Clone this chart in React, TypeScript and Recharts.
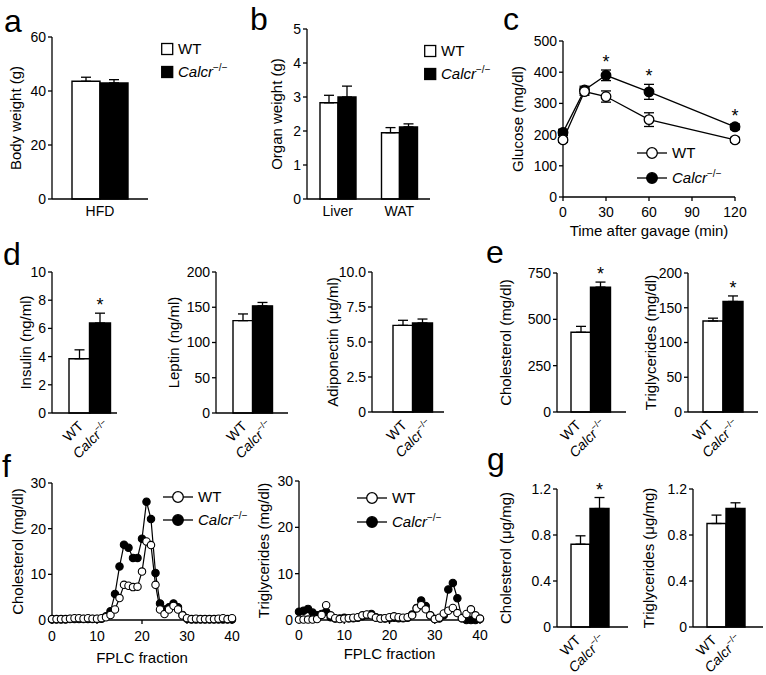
import React from "react";
import {
  BarChart,
  Bar,
  LineChart,
  Line,
  XAxis,
  YAxis,
  ErrorBar,
  Cell,
  LabelList,
  Legend,
} from "recharts";

const W = 766;
const H = 675;
const FONT = "'Liberation Sans', Arial, Helvetica, sans-serif";
const YW = 40;
const XH = 40;
const AXIS = { stroke: "#000", strokeWidth: 1.3 };
const TICK = { fill: "#000", fontSize: 14, fontFamily: FONT };

// a: body weight on HFD
const HFD_GROUPS = ["HFD"];
const BODY_WT = [43.6];
const BODY_WT_SEM = [1.5];
const BODY_KO = [43.0];
const BODY_KO_SEM = [1.2];

// b: organ weight
const ORGANS = ["Liver", "WAT"];
const ORGAN_WT = [2.83, 1.95];
const ORGAN_WT_SEM = [0.22, 0.15];
const ORGAN_KO = [3.0, 2.12];
const ORGAN_KO_SEM = [0.32, 0.09];

// c: glucose after gavage
const TIMES = [0, 15, 30, 60, 120];
const GLU_WT = [183, 338, 322, 248, 183];
const GLU_WT_SEM = [8, 12, 18, 22, 8];
const GLU_KO = [207, 343, 390, 337, 225];
const GLU_KO_SEM = [10, 12, 17, 24, 9];
const GLU_SIG = [false, false, true, true, true];

// d, e, g: WT vs Calcr-/-
const GENOTYPES = ["WT", "Calcr"];
const INSULIN = [3.85, 6.38];
const INSULIN_SEM = [0.63, 0.7];
const INSULIN_SIG = [false, true];
const LEPTIN = [131, 152];
const LEPTIN_SEM = [9.5, 4.8];
const ADIPONECTIN = [6.19, 6.36];
const ADIPONECTIN_SEM = [0.36, 0.28];
const PLASMA_CHOL = [430, 674];
const PLASMA_CHOL_SEM = [32, 27];
const PLASMA_CHOL_SIG = [false, true];
const PLASMA_TG = [131, 159];
const PLASMA_TG_SEM = [4, 8];
const PLASMA_TG_SIG = [false, true];
const LIVER_CHOL = [0.72, 1.03];
const LIVER_CHOL_SEM = [0.073, 0.096];
const LIVER_CHOL_SIG = [false, true];
const LIVER_TG = [0.9, 1.03];
const LIVER_TG_SEM = [0.073, 0.05];
const NO_SIG = [false, false];

// f: FPLC profiles
const FRACTIONS = [
  0, 1, 2, 3, 4, 5, 6, 7, 8, 9, 10, 11, 12, 13, 14, 15, 16, 17, 18, 19, 20,
  21, 22, 23, 24, 25, 26, 27, 28, 29, 30, 31, 32, 33, 34, 35, 36, 37, 38, 39, 40,
];
const FPLC_CHOL_WT = [
  0.2, 0.2, 0.2, 0.2, 0.3, 0.4, 0.4, 0.3, 0.4, 0.3,
  0.3, 0.4, 0.6, 1.1, 2.3, 4.8, 7.7, 7.5, 7.2, 7.3,
  10.6, 17.2, 16.4, 7.7, 2.3, 1.3, 2.3, 3.1, 2.3, 1.0,
  0.4, 0.2, 0.3, 0.2, 0.2, 0.2, 0.2, 0.3, 0.4, 0.2,
  0.4,
];
const FPLC_CHOL_KO = [
  0.1, 0.1, 0.1, 0.1, 0.2, 0.2, 0.2, 0.2, 0.2, 0.2,
  0.2, 0.3, 0.8, 1.9, 5.7, 11.7, 16.5, 15.8, 13.6, 13.6,
  17.8, 25.9, 22.1, 10.3, 3.6, 2.3, 2.8, 3.6, 2.8, 1.1,
  0.3, 0.1, 0.1, 0.1, 0.1, 0.1, 0.1, 0.1, 0.1, 0.1,
  0.1,
];
const FPLC_TG_WT = [
  0.1, 0.1, 0.1, 0.1, 0.2, 1.1, 3.2, 1.0, 0.4, 0.2,
  0.3, 0.4, 0.5, 0.6, 1.0, 1.2, 1.0, 0.5, 0.3, 0.4,
  0.6, 0.8, 0.6, 0.5, 0.6, 1.0, 2.5, 3.2, 2.3, 1.0,
  0.2, 0.5, 1.4, 2.0, 2.6, 1.5, 0.4, 1.3, 2.3, 1.0,
  0.3,
];
const FPLC_TG_KO = [
  1.8, 2.0, 2.4, 1.6, 1.0, 1.3, 1.8, 0.6, 0.3, 0.3,
  0.5, 0.4, 0.4, 0.5, 0.8, 1.1, 1.3, 0.6, 0.3, 0.3,
  0.4, 0.5, 0.4, 0.4, 0.5, 1.2, 2.6, 4.2, 3.0, 1.0,
  0.2, 0.3, 1.0, 6.6, 8.0, 4.7, 0.4, 0.0, 0.0, 0.0,
  0.2,
];

type Rect = { l: number; t: number; r: number; b: number };

const margins = (p: Rect) => ({
  top: p.t,
  left: p.l - YW,
  right: W - p.r,
  bottom: H - p.b - XH,
});

const oneDecimal = (v: number) => (v === 0 ? "0" : v.toFixed(1));

function KoText({ sup }: { sup: number }) {
  return (
    <>
      <tspan fontStyle="italic">Calcr</tspan>
      <tspan fontSize={sup} dy={-sup * 0.65}>
        −/−
      </tspan>
    </>
  );
}

function YTitle({ px, py, caption }: any) {
  return (
    <text
      x={px}
      y={py}
      transform={`rotate(-90 ${px} ${py})`}
      textAnchor="middle"
      dominantBaseline="central"
      fontSize={15}
      fontFamily={FONT}
      fill="#000"
    >
      {caption}
    </text>
  );
}

function XTitle({ px, py, caption }: any) {
  return (
    <text x={px} y={py} textAnchor="middle" fontSize={15} fontFamily={FONT} fill="#000">
      {caption}
    </text>
  );
}

function GenoTick({ x, y, payload, dx }: any) {
  const ko = payload.value !== "WT";
  return (
    <text
      transform={`translate(${x + dx + (ko ? 6 : 0)},${y + 14}) rotate(-45)`}
      textAnchor="end"
      fontSize={14}
      fontFamily={FONT}
      fill="#000"
    >
      {ko ? <KoText sup={9} /> : "WT"}
    </text>
  );
}

function Star({ x, y }: { x: number; y: number }) {
  return (
    <text x={x} y={y - 2} textAnchor="middle" fontSize={18} fontFamily={FONT} fill="#000">
      *
    </text>
  );
}

function barStar(values: number[], sem: number[], sig: boolean[]) {
  return (p: any) => {
    const i = p.index;
    if (i == null || !sig[i]) return null;
    const vb = p.viewBox ?? p;
    const top = vb.y - (vb.height * sem[i]) / values[i];
    return <Star key={`s${i}`} x={vb.x + vb.width / 2} y={top} />;
  };
}

function lineStar(p: any) {
  if (p.value == null) return null;
  const vb = p.viewBox ?? p;
  if (vb.y == null) return null;
  return <Star key={`s${p.index}`} x={vb.x} y={vb.y} />;
}

const byWtFirst = (payload: any[] = []) =>
  payload
    .filter((p) => p.type !== "none")
    .sort((a, b) => (a.value === "WT" ? -1 : b.value === "WT" ? 1 : 0));

function BoxLegend({ payload, gap }: any) {
  const items = byWtFirst(payload);
  return (
    <svg width={120} height={gap + 18} style={{ display: "block", overflow: "visible" }}>
      {items.map((it: any, i: number) => {
        const cy = 8 + i * gap;
        const ko = it.value !== "WT";
        return (
          <g key={it.value}>
            <rect x={0.7} y={cy - 5.5} width={11} height={11} fill={ko ? "#000" : "#fff"} stroke="#000" strokeWidth={1.3} />
            <text x={17} y={cy + 5.3} fontSize={15} fontFamily={FONT} fill="#000">
              {ko ? <KoText sup={10} /> : "WT"}
            </text>
          </g>
        );
      })}
    </svg>
  );
}

function LineLegend({ payload, gap }: any) {
  const items = byWtFirst(payload);
  return (
    <svg width={120} height={gap + 18} style={{ display: "block", overflow: "visible" }}>
      {items.map((it: any, i: number) => {
        const cy = 8 + i * gap;
        const ko = it.value !== "WT";
        return (
          <g key={it.value}>
            <line x1={0} x2={30} y1={cy} y2={cy} stroke="#000" strokeWidth={1.3} />
            <circle cx={15} cy={cy} r={5.3} fill={ko ? "#000" : "#fff"} stroke="#000" strokeWidth={1.3} />
            <text x={35} y={cy + 5.3} fontSize={15} fontFamily={FONT} fill="#000">
              {ko ? <KoText sup={10} /> : "WT"}
            </text>
          </g>
        );
      })}
    </svg>
  );
}

function Layer({ children }: { children: React.ReactNode }) {
  return <div style={{ position: "absolute", left: 0, top: 0 }}>{children}</div>;
}

type TwoBarProps = {
  rect: Rect;
  padL: number;
  padR: number;
  dx: number;
  values: number[];
  sem: number[];
  sig: boolean[];
  max: number;
  ticks: number[];
  title: React.ReactNode;
  titleX: number;
  fmt?: (v: number) => string;
};

function TwoBarPanel({ rect, padL, padR, dx, values, sem, sig, max, ticks, title, titleX, fmt }: TwoBarProps) {
  const rows = GENOTYPES.map((g, i) => ({ g, v: values[i], e: [0, sem[i]] }));
  return (
    <BarChart width={W} height={H} data={rows} margin={margins(rect)} barCategoryGap={0} barGap={0}>
      <XAxis
        dataKey="g"
        type="category"
        height={XH}
        padding={{ left: padL, right: padR }}
        axisLine={AXIS}
        tickLine={false}
        tickSize={0}
        tickMargin={0}
        interval={0}
        tick={<GenoTick dx={dx} />}
      />
      <YAxis
        type="number"
        domain={[0, max]}
        ticks={ticks}
        interval={0}
        width={YW}
        axisLine={AXIS}
        tickLine={AXIS}
        tickSize={4}
        tickMargin={2}
        tick={TICK}
        tickFormatter={fmt}
        label={<YTitle px={titleX} py={(rect.t + rect.b) / 2} caption={title} />}
      />
      <Bar dataKey="v" stroke="#000" strokeWidth={1.4} isAnimationActive={false}>
        {rows.map((r) => (
          <Cell key={r.g} fill={r.g === "WT" ? "#fff" : "#000"} />
        ))}
        <ErrorBar dataKey="e" direction="y" width={5} stroke="#000" strokeWidth={1.3} />
        <LabelList content={barStar(values, sem, sig)} />
      </Bar>
    </BarChart>
  );
}

type GroupedProps = {
  rect: Rect;
  cats: string[];
  wt: number[];
  wtSem: number[];
  ko: number[];
  koSem: number[];
  max: number;
  ticks: number[];
  barSize: number;
  title: string;
  titleX: number;
  legendAt: { left: number; top: number };
};

function GroupedBarPanel({ rect, cats, wt, wtSem, ko, koSem, max, ticks, barSize, title, titleX, legendAt }: GroupedProps) {
  const rows = cats.map((c, i) => ({ c, wt: wt[i], wtE: [0, wtSem[i]], ko: ko[i], koE: [0, koSem[i]] }));
  return (
    <BarChart width={W} height={H} data={rows} margin={margins(rect)} barGap={0} barSize={barSize}>
      <XAxis
        dataKey="c"
        type="category"
        height={XH}
        axisLine={AXIS}
        tickLine={false}
        tickSize={0}
        tickMargin={7}
        interval={0}
        tick={TICK}
      />
      <YAxis
        type="number"
        domain={[0, max]}
        ticks={ticks}
        interval={0}
        width={YW}
        axisLine={AXIS}
        tickLine={AXIS}
        tickSize={4}
        tickMargin={2}
        tick={TICK}
        label={<YTitle px={titleX} py={(rect.t + rect.b) / 2} caption={title} />}
      />
      <Bar dataKey="wt" name="WT" fill="#fff" stroke="#000" strokeWidth={1.4} isAnimationActive={false}>
        <ErrorBar dataKey="wtE" direction="y" width={5} stroke="#000" strokeWidth={1.3} />
      </Bar>
      <Bar dataKey="ko" name="Calcr" fill="#000" stroke="#000" strokeWidth={1.4} isAnimationActive={false}>
        <ErrorBar dataKey="koE" direction="y" width={5} stroke="#000" strokeWidth={1.3} />
      </Bar>
      <Legend
        layout="vertical"
        align="center"
        verticalAlign="middle"
        wrapperStyle={{ left: legendAt.left, top: legendAt.top, width: 120, margin: 0 }}
        content={<BoxLegend gap={23} />}
      />
    </BarChart>
  );
}

function GlucosePanel() {
  const rect = { l: 563, t: 41, r: 735, b: 197 };
  const rows = TIMES.map((t, i) => ({
    t,
    wt: GLU_WT[i],
    wtE: GLU_WT_SEM[i],
    ko: GLU_KO[i],
    koE: GLU_KO_SEM[i],
    star: GLU_SIG[i] ? GLU_KO[i] + GLU_KO_SEM[i] : null,
  }));
  return (
    <LineChart width={W} height={H} data={rows} margin={margins(rect)}>
      <XAxis
        dataKey="t"
        type="number"
        domain={[0, 120]}
        ticks={[0, 30, 60, 90, 120]}
        interval={0}
        height={XH}
        axisLine={AXIS}
        tickLine={AXIS}
        tickSize={4}
        tickMargin={6}
        tick={TICK}
        label={<XTitle px={(rect.l + rect.r) / 2} py={236} caption="Time after gavage (min)" />}
      />
      <YAxis
        type="number"
        domain={[0, 500]}
        ticks={[0, 100, 200, 300, 400, 500]}
        interval={0}
        width={YW}
        axisLine={AXIS}
        tickLine={AXIS}
        tickSize={4}
        tickMargin={2}
        tick={TICK}
        label={<YTitle px={517} py={(rect.t + rect.b) / 2} caption="Glucose (mg/dl)" />}
      />
      <Line
        dataKey="ko"
        name="Calcr"
        stroke="#000"
        strokeWidth={1.3}
        dot={{ r: 4.8, fill: "#000", stroke: "#000", strokeWidth: 1.3 }}
        activeDot={false}
        isAnimationActive={false}
      >
        <ErrorBar dataKey="koE" direction="y" width={5} stroke="#000" strokeWidth={1.3} />
      </Line>
      <Line
        dataKey="wt"
        name="WT"
        stroke="#000"
        strokeWidth={1.3}
        dot={{ r: 4.8, fill: "#fff", stroke: "#000", strokeWidth: 1.3 }}
        activeDot={false}
        isAnimationActive={false}
      >
        <ErrorBar dataKey="wtE" direction="y" width={5} stroke="#000" strokeWidth={1.3} />
      </Line>
      <Line dataKey="star" legendType="none" stroke="none" dot={false} activeDot={false} isAnimationActive={false}>
        <LabelList dataKey="star" content={lineStar} />
      </Line>
      <Legend
        layout="vertical"
        align="center"
        verticalAlign="middle"
        wrapperStyle={{ left: 636.5, top: 145, width: 120, margin: 0 }}
        content={<LineLegend gap={25} />}
      />
    </LineChart>
  );
}

type FplcProps = {
  rect: Rect;
  wt: number[];
  ko: number[];
  title: string;
  titleX: number;
  xTitleY: number;
  tickMargin: number;
  legendAt: { left: number; top: number; gap: number };
};

function FplcPanel({ rect, wt, ko, title, titleX, xTitleY, tickMargin, legendAt }: FplcProps) {
  const rows = FRACTIONS.map((f, i) => ({ f, wt: wt[i], ko: ko[i] }));
  return (
    <LineChart width={W} height={H} data={rows} margin={margins(rect)}>
      <XAxis
        dataKey="f"
        type="number"
        domain={[0, 40]}
        ticks={[0, 10, 20, 30, 40]}
        interval={0}
        height={XH}
        axisLine={AXIS}
        tickLine={AXIS}
        tickSize={4}
        tickMargin={tickMargin}
        tick={TICK}
        label={<XTitle px={(rect.l + rect.r) / 2} py={xTitleY} caption="FPLC fraction" />}
      />
      <YAxis
        type="number"
        domain={[0, 30]}
        ticks={[0, 10, 20, 30]}
        interval={0}
        width={YW}
        axisLine={AXIS}
        tickLine={AXIS}
        tickSize={4}
        tickMargin={2}
        tick={TICK}
        label={<YTitle px={titleX} py={(rect.t + rect.b) / 2} caption={title} />}
      />
      <Line
        dataKey="ko"
        name="Calcr"
        stroke="#000"
        strokeWidth={1.2}
        dot={{ r: 3.7, fill: "#000", stroke: "#000", strokeWidth: 1.1 }}
        activeDot={false}
        isAnimationActive={false}
      />
      <Line
        dataKey="wt"
        name="WT"
        stroke="#000"
        strokeWidth={1.2}
        dot={{ r: 3.7, fill: "#fff", stroke: "#000", strokeWidth: 1.1 }}
        activeDot={false}
        isAnimationActive={false}
      />
      <Legend
        layout="vertical"
        align="center"
        verticalAlign="middle"
        wrapperStyle={{ left: legendAt.left, top: legendAt.top, width: 120, margin: 0 }}
        content={<LineLegend gap={legendAt.gap} />}
      />
    </LineChart>
  );
}

const LETTERS: [string, number, number][] = [
  ["a", 4, 32],
  ["b", 250, 30],
  ["c", 503, 29.5],
  ["d", 3, 265],
  ["e", 486, 263],
  ["f", 2, 477],
  ["g", 487, 470],
];

export default function App() {
  return (
    <div style={{ position: "absolute", left: 0, top: 0, width: W, height: H, background: "#fff", overflow: "hidden" }}>
      <Layer>
        <GroupedBarPanel
          rect={{ l: 52, t: 37, r: 148, b: 199 }}
          cats={HFD_GROUPS}
          wt={BODY_WT}
          wtSem={BODY_WT_SEM}
          ko={BODY_KO}
          koSem={BODY_KO_SEM}
          max={60}
          ticks={[0, 20, 40, 60]}
          barSize={28}
          title="Body weight (g)"
          titleX={15}
          legendAt={{ left: 161, top: 40.5 }}
        />
      </Layer>
      <Layer>
        <GroupedBarPanel
          rect={{ l: 307, t: 29, r: 430, b: 199 }}
          cats={ORGANS}
          wt={ORGAN_WT}
          wtSem={ORGAN_WT_SEM}
          ko={ORGAN_KO}
          koSem={ORGAN_KO_SEM}
          max={5}
          ticks={[0, 1, 2, 3, 4, 5]}
          barSize={18}
          title="Organ weight (g)"
          titleX={276}
          legendAt={{ left: 423.5, top: 42.5 }}
        />
      </Layer>
      <Layer>
        <GlucosePanel />
      </Layer>
      <Layer>
        <TwoBarPanel
          rect={{ l: 52, t: 272, r: 117, b: 413 }}
          padL={17}
          padR={7}
          dx={5}
          values={INSULIN}
          sem={INSULIN_SEM}
          sig={INSULIN_SIG}
          max={10}
          ticks={[0, 2, 4, 6, 8, 10]}
          title="Insulin (ng/ml)"
          titleX={25}
        />
      </Layer>
      <Layer>
        <TwoBarPanel
          rect={{ l: 216, t: 272, r: 288, b: 413 }}
          padL={17}
          padR={16}
          dx={5}
          values={LEPTIN}
          sem={LEPTIN_SEM}
          sig={NO_SIG}
          max={200}
          ticks={[0, 50, 100, 150, 200]}
          title="Leptin (ng/ml)"
          titleX={173}
        />
      </Layer>
      <Layer>
        <TwoBarPanel
          rect={{ l: 372, t: 272, r: 444, b: 412 }}
          padL={21}
          padR={12}
          dx={5}
          values={ADIPONECTIN}
          sem={ADIPONECTIN_SEM}
          sig={NO_SIG}
          max={10}
          ticks={[0, 2.5, 5, 7.5, 10]}
          fmt={oneDecimal}
          title="Adiponectin (μg/ml)"
          titleX={332}
        />
      </Layer>
      <Layer>
        <TwoBarPanel
          rect={{ l: 557, t: 273, r: 626, b: 412 }}
          padL={14}
          padR={16}
          dx={1}
          values={PLASMA_CHOL}
          sem={PLASMA_CHOL_SEM}
          sig={PLASMA_CHOL_SIG}
          max={750}
          ticks={[0, 250, 500, 750]}
          title="Cholesterol (mg/dl)"
          titleX={505}
        />
      </Layer>
      <Layer>
        <TwoBarPanel
          rect={{ l: 688, t: 273, r: 758, b: 412 }}
          padL={15}
          padR={15}
          dx={1}
          values={PLASMA_TG}
          sem={PLASMA_TG_SEM}
          sig={PLASMA_TG_SIG}
          max={200}
          ticks={[0, 50, 100, 150, 200]}
          title="Triglycerides (mg/dl)"
          titleX={650}
        />
      </Layer>
      <Layer>
        <FplcPanel
          rect={{ l: 52, t: 483, r: 232, b: 620 }}
          wt={FPLC_CHOL_WT}
          ko={FPLC_CHOL_KO}
          title="Cholesterol (mg/dl)"
          titleX={17}
          xTitleY={663}
          tickMargin={7}
          legendAt={{ left: 163, top: 489, gap: 23 }}
        />
      </Layer>
      <Layer>
        <FplcPanel
          rect={{ l: 299, t: 481, r: 480, b: 620 }}
          wt={FPLC_TG_WT}
          ko={FPLC_TG_KO}
          title="Triglycerides (mg/dl)"
          titleX={263}
          xTitleY={659}
          tickMargin={6}
          legendAt={{ left: 356.5, top: 489.7, gap: 24 }}
        />
      </Layer>
      <Layer>
        <TwoBarPanel
          rect={{ l: 557, t: 489, r: 628, b: 627 }}
          padL={14}
          padR={19}
          dx={1}
          values={LIVER_CHOL}
          sem={LIVER_CHOL_SEM}
          sig={LIVER_CHOL_SIG}
          max={1.2}
          ticks={[0, 0.4, 0.8, 1.2]}
          fmt={oneDecimal}
          title="Cholesterol (μg/mg)"
          titleX={505}
        />
      </Layer>
      <Layer>
        <TwoBarPanel
          rect={{ l: 693, t: 489, r: 763, b: 627 }}
          padL={14}
          padR={18}
          dx={1}
          values={LIVER_TG}
          sem={LIVER_TG_SEM}
          sig={NO_SIG}
          max={1.2}
          ticks={[0, 0.4, 0.8, 1.2]}
          fmt={oneDecimal}
          title="Triglycerides (μg/mg)"
          titleX={648}
        />
      </Layer>
      <svg width={W} height={H} style={{ position: "absolute", left: 0, top: 0, pointerEvents: "none" }}>
        {LETTERS.map(([ch, x, y]) => (
          <text key={ch} x={x} y={y} fontSize={32} fontFamily={FONT} fill="#000">
            {ch}
          </text>
        ))}
      </svg>
    </div>
  );
}
